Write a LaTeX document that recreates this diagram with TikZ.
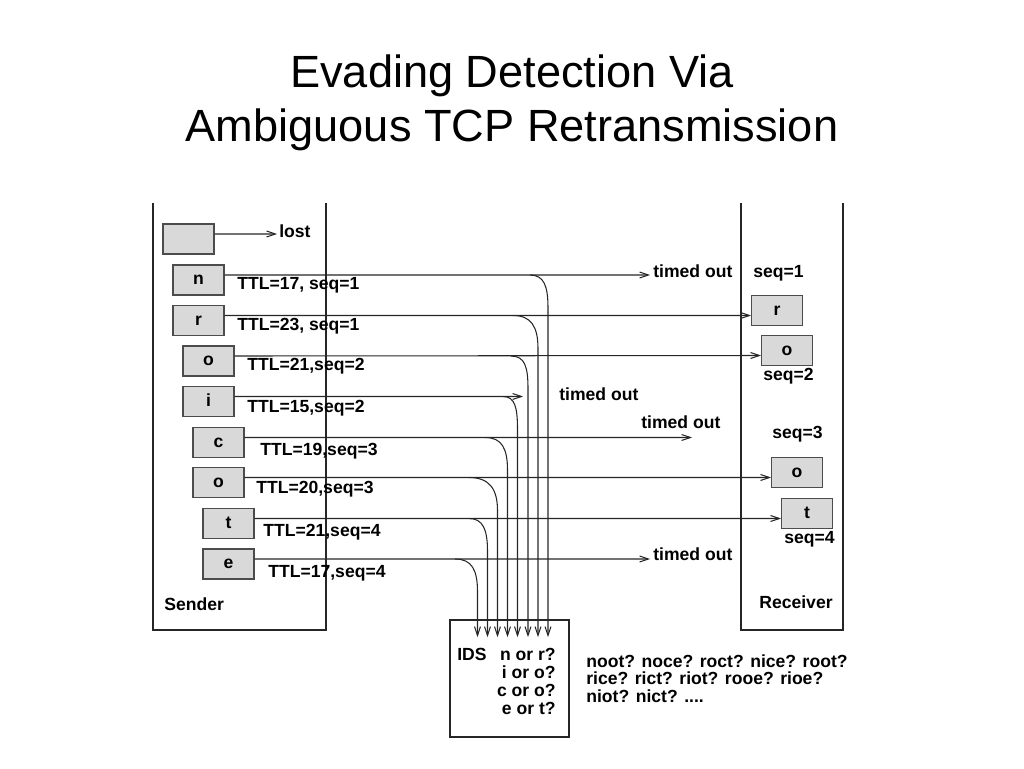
\documentclass[tikz,border=0pt]{standalone}
\usepackage{fontspec}
\setmainfont{Liberation Sans}
\usetikzlibrary{arrows.meta}
\tikzset{
  pkt/.style={draw=black!70, fill=black!15, line width=0.6pt, minimum width=1.02cm, minimum height=0.6cm, text height=0.52em, text depth=0pt},
  lbl/.style={anchor=base west},
  msg/.style={draw=black!85, line width=0.6pt},
  msgto/.style={msg, -{Straight Barb[length=5pt,width=3.4pt]}}
}
\begin{document}
\begin{tikzpicture}[x=0.02cm, y=-0.02cm]
        \tikzstyle{every node}+=[inner sep=0pt, font=\bfseries]
        \useasboundingbox (0,0) rectangle (1024,768);
        \node [anchor=base, font=\fontsize{25.7}{30}\selectfont] (title1) at (512,87.7) {Evading Detection Via};
        \node [anchor=base, font=\fontsize{25.7}{30}\selectfont] (title2) at (512,141.7) {Ambiguous TCP Retransmission};
        \draw [msg] (153,203) -- (153,630) -- (326,630) -- (326,203);
        \node [lbl] (sender) at (164,610) {Sender};
        \draw [msg] (741,203) -- (741,630) -- (843,630) -- (843,203);
        \node [lbl] (receiver) at (759,608) {Receiver};
        \node [pkt] (slost) at (188.5,239) {};
        \node [pkt] (sn) at (198.5,280) {n};
        \node [pkt] (sr) at (198.5,320.5) {r};
        \node [pkt] (so) at (208.5,361) {o};
        \node [pkt] (si) at (208.5,401.5) {i};
        \node [pkt] (sc) at (218.5,442.5) {c};
        \node [pkt] (so2) at (218.5,482.5) {o};
        \node [pkt] (st) at (228.5,523.5) {t};
        \node [pkt] (se) at (228.5,564) {e};
        \node [lbl] (ttln) at (237,289) {TTL=17, seq=1};
        \node [lbl] (ttlr) at (237,330.7) {TTL=23, seq=1};
        \node [lbl] (ttlo) at (247,370.7) {TTL=21,seq=2};
        \node [lbl] (ttli) at (247,412) {TTL=15,seq=2};
        \node [lbl] (ttlc) at (260,455.7) {TTL=19,seq=3};
        \node [lbl] (ttlo2) at (256,493) {TTL=20,seq=3};
        \node [lbl] (ttlt) at (263,536.7) {TTL=21,seq=4};
        \node [lbl] (ttle) at (268,577) {TTL=17,seq=4};
        \node [pkt] (rr) at (777,310.5) {r};
        \node [pkt] (ro) at (787,350.5) {o};
        \node [pkt] (ro2) at (797,472.5) {o};
        \node [pkt] (rt) at (807,513.5) {t};
        \node [lbl] (seq1) at (753,277) {seq=1};
        \node [lbl] (seq2) at (763,380) {seq=2};
        \node [lbl] (seq3) at (772,438) {seq=3};
        \node [lbl] (seq4) at (784,543) {seq=4};
        \node [lbl] (lost) at (279,237) {lost};
        \node [lbl] (ton) at (653,277) {timed out};
        \node [lbl] (toi) at (559,400) {timed out};
        \node [lbl] (toc) at (641,428) {timed out};
        \node [lbl] (toe) at (653,560) {timed out};
        \coordinate (elost) at (277,234);
        \coordinate (en) at (650,275);
        \coordinate (ei) at (523,396.5);
        \coordinate (ec) at (692,437.5);
        \coordinate (ee) at (650,559);
        \draw [msgto] ([yshift=0.1cm]slost.east) -- (elost);
        \draw [msgto] ([yshift=0.1cm]sn.east) -- (en);
        \draw [msgto] ([yshift=0.1cm]sr.east) -- ([yshift=-0.1cm]rr.west);
        \draw [msgto] ([yshift=0.1cm]so.east) -- ([yshift=-0.1cm]ro.west);
        \draw [msgto] ([yshift=0.1cm]si.east) -- (ei);
        \draw [msgto] ([yshift=0.1cm]sc.east) -- (ec);
        \draw [msgto] ([yshift=0.1cm]so2.east) -- ([yshift=-0.1cm]ro2.west);
        \draw [msgto] ([yshift=0.1cm]st.east) -- ([yshift=-0.1cm]rt.west);
        \draw [msgto] ([yshift=0.1cm]se.east) -- (ee);
        \node [draw=black!85, line width=0.6pt, minimum width=2.38cm, minimum height=2.34cm] (ids) at (509.5,678.5) {};
        \coordinate (bn) at (530,275);
        \coordinate (br) at (513,315.5);
        \coordinate (bo) at (511,356);
        \coordinate (bi) at (503,396.5);
        \coordinate (bc) at (485,437.5);
        \coordinate (bo2) at (469,477.5);
        \coordinate (bt) at (469,518.5);
        \coordinate (be) at (455,559);
        \coordinate (dn) at (548,637);
        \coordinate (dr) at (538,637);
        \coordinate (do) at (528,637);
        \coordinate (di) at (517.5,637);
        \coordinate (dc) at (507.5,637);
        \coordinate (do2) at (497.5,637);
        \coordinate (dt) at (487.5,637);
        \coordinate (de) at (477.5,637);
        \draw [msgto] (bn) .. controls +(14,0) and +(0,-22) .. ++(18,33) -- (dn);
        \draw [msgto] (br) .. controls +(18,0) and +(0,-22) .. ++(25,33) -- (dr);
        \draw [msgto] (bo) .. controls +(14,0) and +(0,-22) .. ++(17,33) -- (do);
        \draw [msgto] (bi) .. controls +(12,0) and +(0,-22) .. ++(14.5,33) -- (di);
        \draw [msgto] (bc) .. controls +(17,0) and +(0,-22) .. ++(22.5,33) -- (dc);
        \draw [msgto] (bo2) .. controls +(20,0) and +(0,-22) .. ++(28.5,33) -- (do2);
        \draw [msgto] (bt) .. controls +(14,0) and +(0,-22) .. ++(18.5,33) -- (dt);
        \draw [msgto] (be) .. controls +(17,0) and +(0,-22) .. ++(22.5,33) -- (de);
        \node [lbl] (idsl) at (457,660) {IDS};
        \node [anchor=base east] (guess1) at (556,660.5) {n or r?};
        \node [anchor=base east] (guess2) at (556,678.5) {i or o?};
        \node [anchor=base east] (guess3) at (556,696.5) {c or o?};
        \node [anchor=base east] (guess4) at (556,714) {e or t?};
        \node [lbl] (word1) at (586,667) {noot? noce? roct? nice? root?};
        \node [lbl] (word2) at (586,684.5) {rice? rict? riot? rooe? rioe?};
        \node [lbl] (word3) at (586,702) {niot? nict? ....};
    \end{tikzpicture}
\end{document}
